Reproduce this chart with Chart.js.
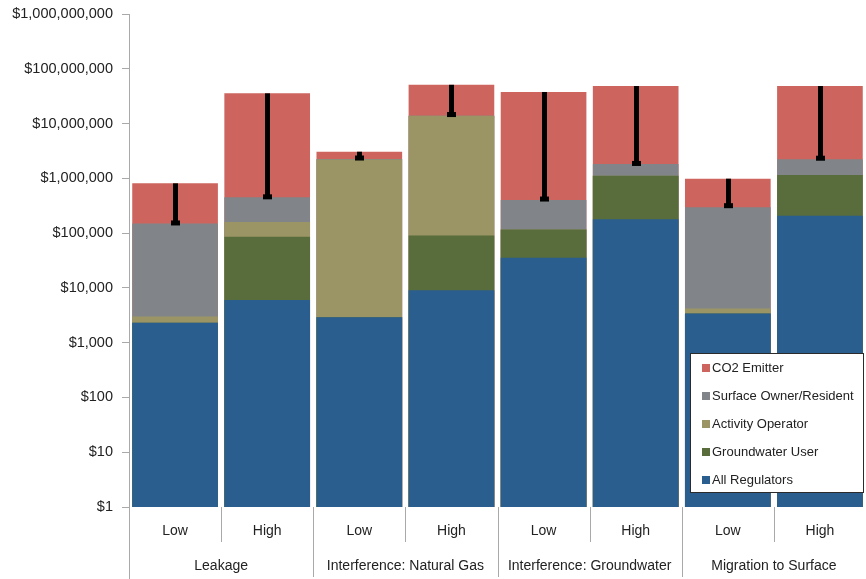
<!DOCTYPE html>
<html>
<head>
<meta charset="utf-8">
<script src="https://cdn.jsdelivr.net/npm/chart.js@4.4.1/dist/chart.umd.min.js"></script>
<style>
  html, body { margin: 0; padding: 0; background: #ffffff; }
  #wrap { width: 866px; height: 579px; position: relative; }
</style>
</head>
<body>
<div id="wrap"><canvas id="c" width="866" height="579"></canvas></div>
<script>
// Scenario groups and the Low / High case under each one
const scenarios = ['Leakage', 'Interference: Natural Gas', 'Interference: Groundwater', 'Migration to Surface'];
const cases = ['Low', 'High', 'Low', 'High', 'Low', 'High', 'Low', 'High'];

// Cumulative cost ($) at the top of each stakeholder band, bottom band first
const allRegulators    = [2300,   6000,     2900,    9100,     35600,    179000,   3400,   208000];
const groundwaterUser  = [2300,   86000,    2900,    90000,    117000,   1120000,  3400,   1150000];
const activityOperator = [3000,   160000,   2200000, 13900000, 117000,   1120000,  4200,   1150000];
const surfaceOwner     = [150000, 450000,   2250000, 13900000, 402000,   1830000,  296000, 2220000];
const co2Emitter       = [810000, 35600000, 3060000, 51000000, 37700000, 48400000, 985000, 48400000];

// Range markers drawn through the CO2 Emitter band
const rangeLow  = [150000, 450000,   2300000, 14300000, 410000,   1830000,  310000, 2280000];
const rangeHigh = [810000, 35600000, 3060000, 51000000, 37700000, 48400000, 985000, 48400000];

// Axis ticks: one per decade
const yTicks = [1, 10, 100, 1000, 10000, 100000, 1000000, 10000000, 100000000, 1000000000];

const COLORS = {
  co2: '#cd655e',
  surface: '#818589',
  operator: '#9b9565',
  groundwater: '#596d3c',
  regulators: '#2a5e8e'
};
const AXIS = '#a9a9a9';
const FONT = "'Liberation Sans', Arial, sans-serif";

// Front-most band first: Chart.js paints dataset 0 last, so bands overlay correctly
const series = [
  { label: 'All Regulators', data: allRegulators, color: COLORS.regulators },
  { label: 'Groundwater User', data: groundwaterUser, color: COLORS.groundwater },
  { label: 'Activity Operator', data: activityOperator, color: COLORS.operator },
  { label: 'Surface Owner/Resident', data: surfaceOwner, color: COLORS.surface },
  { label: 'CO2 Emitter', data: co2Emitter, color: COLORS.co2 }
];

const decor = {
  id: 'decor',
  afterDatasetsDraw(chart) {
    const ctx = chart.ctx;
    const x = chart.scales.x, y = chart.scales.y;
    const area = chart.chartArea;

    // range markers
    ctx.save();
    ctx.fillStyle = '#000000';
    cases.forEach((_, i) => {
      const cx = Math.round(x.getPixelForValue(i));
      const yTop = y.getPixelForValue(rangeHigh[i]);
      const yBot = y.getPixelForValue(rangeLow[i]);
      ctx.fillRect(cx - 2, yTop, 5, yBot - yTop);
      ctx.fillRect(cx - 4, yBot - 3, 9, 5);
    });
    ctx.restore();

    // category axis: separators and labels
    ctx.save();
    ctx.strokeStyle = AXIS;
    ctx.lineWidth = 1;
    const step = x.getPixelForValue(1) - x.getPixelForValue(0);
    // extend the value axis line downward
    ctx.beginPath();
    ctx.moveTo(area.left + 0.5, area.bottom);
    ctx.lineTo(area.left + 0.5, chart.height);
    ctx.stroke();
    for (let i = 1; i < cases.length; i++) {
      const bx = Math.round(x.getPixelForValue(i) - step / 2) + 0.5;
      const isGroup = i % 2 === 0;
      ctx.beginPath();
      ctx.moveTo(bx, area.bottom);
      ctx.lineTo(bx, isGroup ? chart.height - 2 : area.bottom + 35);
      ctx.stroke();
    }
    ctx.fillStyle = '#222222';
    ctx.textAlign = 'center';
    ctx.textBaseline = 'middle';
    ctx.font = '14px ' + FONT;
    cases.forEach((c, i) => {
      ctx.fillText(c, x.getPixelForValue(i), area.bottom + 24);
    });
    scenarios.forEach((s, g) => {
      const cx = (x.getPixelForValue(g * 2) + x.getPixelForValue(g * 2 + 1)) / 2;
      ctx.fillText(s, cx, area.bottom + 59);
    });
    ctx.restore();

    // legend box
    ctx.save();
    const lx = 690, ly = 353, lw = 173, lh = 139;
    ctx.fillStyle = '#ffffff';
    ctx.fillRect(lx, ly, lw, lh);
    ctx.strokeStyle = '#2b2b2b';
    ctx.lineWidth = 1;
    ctx.strokeRect(lx + 0.5, ly + 0.5, lw, lh);
    ctx.font = '13px ' + FONT;
    ctx.textAlign = 'left';
    ctx.textBaseline = 'middle';
    const items = series.slice().reverse();
    items.forEach((s, k) => {
      const ry = ly + 15 + k * 28;
      ctx.fillStyle = s.color;
      ctx.fillRect(lx + 12, ry - 4, 8, 8);
      ctx.fillStyle = '#222222';
      ctx.fillText(s.label, lx + 22, ry);
    });
    ctx.restore();
  }
};

new Chart(document.getElementById('c'), {
  type: 'bar',
  data: {
    labels: cases,
    datasets: series.map(s => ({
      label: s.label,
      data: s.data,
      backgroundColor: s.color,
      borderWidth: 0,
      categoryPercentage: 1.0,
      barPercentage: 0.93
    }))
  },
  options: {
    responsive: false,
    animation: false,
    devicePixelRatio: 1,
    layout: { padding: { top: 14, right: 0, bottom: 72, left: 0 } },
    plugins: { legend: { display: false }, tooltip: { enabled: false } },
    scales: {
      x: { display: false, stacked: true },
      y: {
        type: 'logarithmic',
        stacked: false,
        min: 1,
        max: 1000000000,
        afterFit(scale) { scale.width = 129; scale.paddingTop = 0; },
        afterBuildTicks(scale) { scale.ticks = yTicks.map(v => ({ value: v })); },
        ticks: {
          autoSkip: false,
          padding: 9,
          color: '#222222',
          font: { family: FONT, size: 14.5, lineHeight: 1 },
          callback: v => '$' + Number(v).toLocaleString('en-US')
        },
        grid: { drawOnChartArea: false, tickLength: 7, color: AXIS },
        border: { color: AXIS }
      }
    }
  },
  plugins: [decor]
});
</script>
</body>
</html>
